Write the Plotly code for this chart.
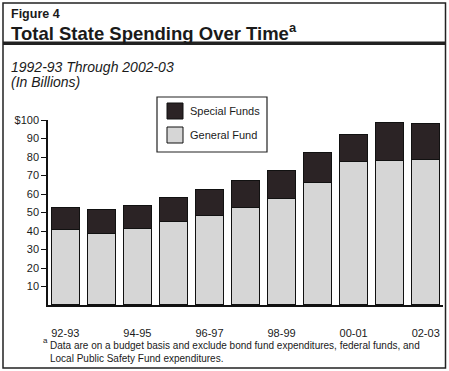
import plotly.graph_objects as go

years = ["92-93", "93-94", "94-95", "95-96", "96-97", "97-98",
         "98-99", "99-00", "00-01", "01-02", "02-03"]
general_fund = [40.8, 38.6, 41.3, 45.3, 48.4, 52.9, 57.5, 66.3, 77.7, 78.2, 78.8]
special_funds = [11.9, 13.0, 12.5, 12.8, 14.0, 14.4, 15.2, 16.1, 14.4, 20.4, 19.3]
y_ticks = [10, 20, 30, 40, 50, 60, 70, 80, 90, 100]
y_tick_text = ["10", "20", "30", "40", "50", "60", "70", "80", "90", "$100"]
x_tick_years = ["92-93", "94-95", "96-97", "98-99", "00-01", "02-03"]

W, H = 449, 371
ML, MR, MT, MB = 48, 6, 120, 66
PW = W - ML - MR
PH = H - MT - MB
DARK = "#2b2325"
LIGHT = "#d6d6d6"
INK = "#1a1a1a"
FONT = "Liberation Sans, Arial, sans-serif"


def px(x):
    return (x - ML) / PW


def py(y):
    return (H - MB - y) / PH


fig = go.Figure()
fig.add_trace(go.Bar(x=years, y=general_fund, name="General Fund",
                     marker=dict(color=LIGHT, line=dict(color="#111", width=1.2))))
fig.add_trace(go.Bar(x=years, y=special_funds, name="Special Funds",
                     marker=dict(color=DARK, line=dict(color="#111", width=1.2))))

shapes = []
# outer frame
shapes.append(dict(type="rect", xref="paper", yref="paper",
                   x0=px(3), x1=px(445.5), y0=py(3), y1=py(368),
                   line=dict(color="#222", width=1.5), layer="below"))
# thick rule under title
shapes.append(dict(type="rect", xref="paper", yref="paper",
                   x0=px(3), x1=px(445.5), y0=py(41.5), y1=py(45),
                   line=dict(width=0), fillcolor="#222"))
# legend box
shapes.append(dict(type="rect", xref="paper", yref="paper",
                   x0=px(157), x1=px(267), y0=py(97), y1=py(152),
                   line=dict(color="#222", width=1.2)))
shapes.append(dict(type="rect", xref="paper", yref="paper",
                   x0=px(167), x1=px(183), y0=py(103), y1=py(119),
                   line=dict(color="#111", width=1), fillcolor=DARK))
shapes.append(dict(type="rect", xref="paper", yref="paper",
                   x0=px(167), x1=px(183), y0=py(127), y1=py(143),
                   line=dict(color="#111", width=1), fillcolor=LIGHT))

annotations = []


def note(text, x, y, size, bold=False, italic=False):
    t = text
    if bold:
        t = "<b>" + t + "</b>"
    if italic:
        t = "<i>" + t + "</i>"
    annotations.append(dict(text=t, xref="paper", yref="paper", x=px(x), y=py(y),
                            xanchor="left", yanchor="middle", showarrow=False,
                            align="left", font=dict(size=size, color=INK, family=FONT)))


note("Figure 4", 9, 14, 12.5, bold=True)
note("Total State Spending Over Time<sup>a</sup>", 9, 32, 18.5, bold=True)
note("1992-93 Through 2002-03", 9, 67, 14, italic=True)
note("(In Billions)", 9, 82, 14, italic=True)
note("Special Funds", 188, 111, 11)
note("General Fund", 188, 135, 11)
note("a", 41, 340, 8)
note("Data are on a budget basis and exclude bond fund expenditures, federal funds, and",
     48, 345, 10)
note("Local Public Safety Fund expenditures.", 48, 358.5, 10)

fig.update_layout(
    width=W, height=H,
    margin=dict(l=ML, r=MR, t=MT, b=MB),
    paper_bgcolor="white", plot_bgcolor="white",
    barmode="stack", bargap=0.22, showlegend=False,
    font=dict(family=FONT, size=11, color=INK),
    shapes=shapes, annotations=annotations,
)
fig.update_xaxes(type="category", range=[-0.48, 10.48], showline=True, linecolor="#111",
                 linewidth=1.5, ticks="", tickmode="array", tickvals=x_tick_years,
                 ticktext=x_tick_years, showgrid=False, zeroline=False,
                 ticklabelstandoff=17, tickfont=dict(size=11, color=INK))
fig.update_yaxes(range=[0, 100], showline=True, linecolor="#111", linewidth=1.5,
                 ticks="outside", ticklen=5, tickcolor="#111", tickwidth=1,
                 tickmode="array", tickvals=y_ticks, ticktext=y_tick_text,
                 showgrid=False, zeroline=False, tickfont=dict(size=11, color=INK))

fig.write_html("out.html", config={"displayModeBar": False},
               post_script="document.body.style.margin='0';")
